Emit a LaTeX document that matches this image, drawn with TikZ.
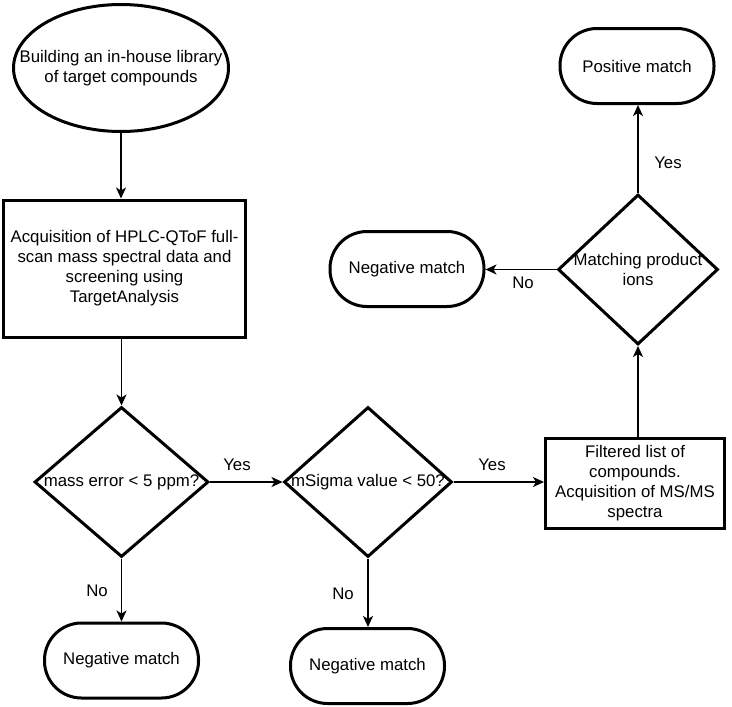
\documentclass[tikz,border=0pt]{standalone}
\usepackage{fontspec}
\setmainfont{Liberation Sans}
\usetikzlibrary{shapes.geometric,arrows.meta}
\begin{document}
\begin{tikzpicture}[x=1pt,y=-1pt,
  every node/.style={font=\fontsize{16.8}{20}\selectfont},
  shp/.style={draw, line width=3pt, inner sep=0pt},
  ell/.style={shp, ellipse, minimum width=215pt, minimum height=127pt},
  box/.style={shp, rectangle, align=center},
  dia/.style={shp, diamond, minimum height=150pt},
  term/.style={shp, rectangle, rounded corners=37pt, minimum width=154pt, minimum height=75pt},
  arr/.style={line width=1.6pt, -{Stealth[length=11pt,width=10pt,inset=3pt]}},
  lab/.style={inner sep=0pt, align=center}
]
\useasboundingbox (0,0) rectangle (732,707);

\node[ell] (e) at (121,68) {};
\node[lab] (et) at (e) {Building an in-house library\\of target compounds};
\node[box, minimum width=242pt, minimum height=137pt] (b1) at (124.5,268.5)
  {Acquisition of HPLC-QToF full-\\scan mass spectral data and\\screening using\\TargetAnalysis};

\node[dia, minimum width=174pt] (d1) at (121.5,482) {};
\node[lab] (d1t) at (d1) {mass error < 5 ppm?};
\node[dia, minimum width=168pt] (d2) at (368,482) {};
\node[lab] (d2t) at (d2) {mSigma value < 50?};
\node[box, minimum width=179pt, minimum height=90pt] (b2) at (635,483.5)
  {Filtered list of\\compounds.\\Acquisition of MS/MS\\spectra};
\node[dia, minimum width=160pt] (d3) at (638,269.5) {};
\node[lab] (d3t) at (d3) {Matching product\\ions};

\node[term] (n1) at (121.5,660.5) {Negative match};
\node[term] (n2) at (367.5,666) {Negative match};
\node[term] (n3) at (407,269) {Negative match};
\node[term] (p) at (637,66) {Positive match};

\draw[arr] (e.south) -- (e.south |- b1.north);
\draw[arr] (d1.north |- b1.south) -- (d1.north);
\draw[arr] (d1.east) -- (d2.west);
\draw[arr] (d2.east) -- (d2.east -| b2.west);
\draw[arr] (d1.south) -- (d1.south |- n1.north);
\draw[arr] (d2.south) -- (d2.south |- n2.north);
\draw[arr] (b2.north -| d3.south) -- (d3.south);
\draw[arr] (d3.west) -- (d3.west -| n3.east);
\draw[arr] (d3.north) -- (d3.north |- p.south);

\node[lab] (y1) at (237,465) {Yes};
\node[lab] (y2) at (492,465) {Yes};
\node[lab] (y3) at (668,163) {Yes};
\node[lab] (no1) at (97,591) {No};
\node[lab] (no2) at (343,594) {No};
\node[lab] (no3) at (523,283) {No};
\end{tikzpicture}
\end{document}
